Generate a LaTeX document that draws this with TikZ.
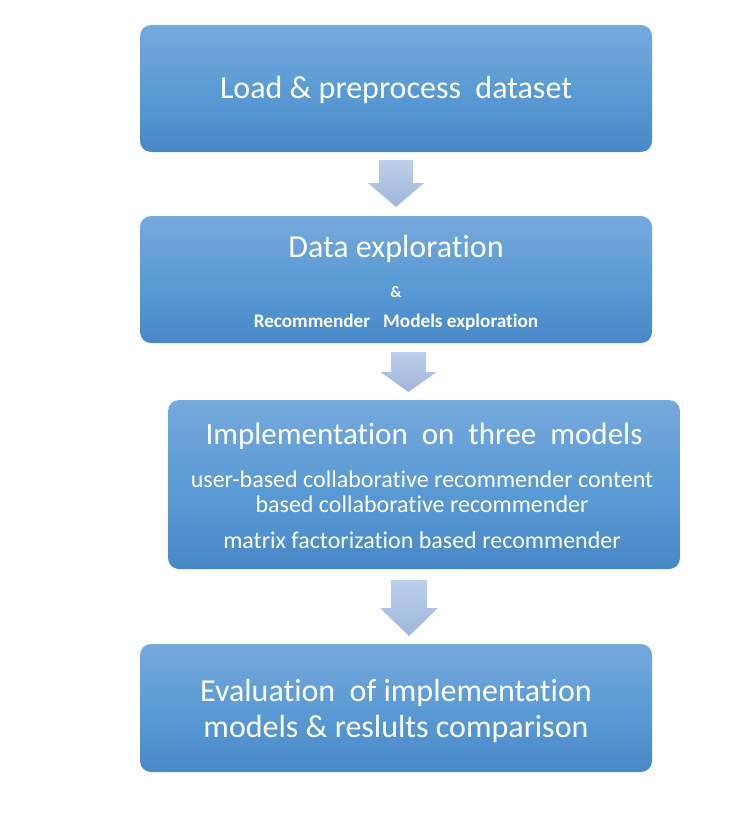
\documentclass[tikz,border=0pt]{standalone}
\usepackage{fontspec}
\setmainfont{Carlito}[Ligatures=NoCommon]
\usepackage{tikz}

\definecolor{boxtop}{RGB}{118,169,220}
\definecolor{boxmid}{RGB}{91,155,213}
\definecolor{boxbottom}{RGB}{72,136,200}
\definecolor{arrowtop}{RGB}{189,208,236}
\definecolor{arrowbottom}{RGB}{158,182,217}

\tikzset{
  stagebox/.style={rounded corners=11pt, minimum width=512pt, inner sep=0pt,
    top color=boxtop, bottom color=boxbottom, middle color=boxmid},
  arrowshade/.style={top color=arrowtop, bottom color=arrowbottom},
  boxtext/.style={text=white, anchor=base, inner sep=0pt}
}

\begin{document}
\begin{tikzpicture}[x=1pt, y=-1pt]
        \useasboundingbox (0,0) rectangle (744,816);
        \node[stagebox, minimum height=127pt] (Load) at (396, 88.5) {};
        \node[stagebox, minimum height=127pt] (Explore) at (396, 279.5) {};
        \node[stagebox, minimum height=169pt] (Implement) at (424, 484.5) {};
        \node[stagebox, minimum height=128pt] (Evaluate) at (396, 708) {};
        \node[boxtext, font=\fontsize{32}{38}\selectfont] (Load Text) at (396, 98) {Load \& preprocess~ dataset};
        \node[boxtext, font=\fontsize{32}{38}\selectfont] (Explore Title) at (396, 257) {Data exploration};
        \node[boxtext, font=\bfseries\fontsize{16}{19}\selectfont] (Explore And) at (396, 297) {\&};
        \node[boxtext, font=\bfseries\fontsize{19.2}{23}\selectfont] (Explore Models) at (396, 327) {Recommender~~ Models exploration};
        \node[boxtext, font=\fontsize{31}{37}\selectfont] (Implement Title) at (424, 444) {Implementation~ on~ three~ models};
        \node[boxtext, font=\fontsize{24}{29}\selectfont] (Implement User) at (422, 487) {user-based collaborative recommender content};
        \node[boxtext, font=\fontsize{24}{29}\selectfont] (Implement Content) at (422, 512) {based collaborative recommender};
        \node[boxtext, font=\fontsize{24}{29}\selectfont] (Implement Matrix) at (422, 548) {matrix factorization based recommender};
        \node[boxtext, font=\fontsize{32}{38}\selectfont] (Evaluate First) at (396, 701) {Evaluation~ of implementation};
        \node[boxtext, font=\fontsize{32}{38}\selectfont] (Evaluate Second) at (396, 737) {models \& reslults comparison};
        \coordinate (Arrow 1) at (396, 160);
        \coordinate (Arrow 2) at (408.5, 352);
        \coordinate (Arrow 3) at (409, 580);
        \shade[arrowshade] (Arrow 1) ++(-17,0) -- ++(34,0) -- ++(0,23) -- ++(11,0) -- ++(-28,24) -- ++(-28,-24) -- ++(11,0) -- cycle;
        \shade[arrowshade] (Arrow 2) ++(-17.5,0) -- ++(35,0) -- ++(0,20) -- ++(10.5,0) -- ++(-28,20) -- ++(-28,-20) -- ++(10.5,0) -- cycle;
        \shade[arrowshade] (Arrow 3) ++(-18,0) -- ++(36,0) -- ++(0,28) -- ++(11,0) -- ++(-29,28) -- ++(-29,-28) -- ++(11,0) -- cycle;
    \end{tikzpicture}
\end{document}
